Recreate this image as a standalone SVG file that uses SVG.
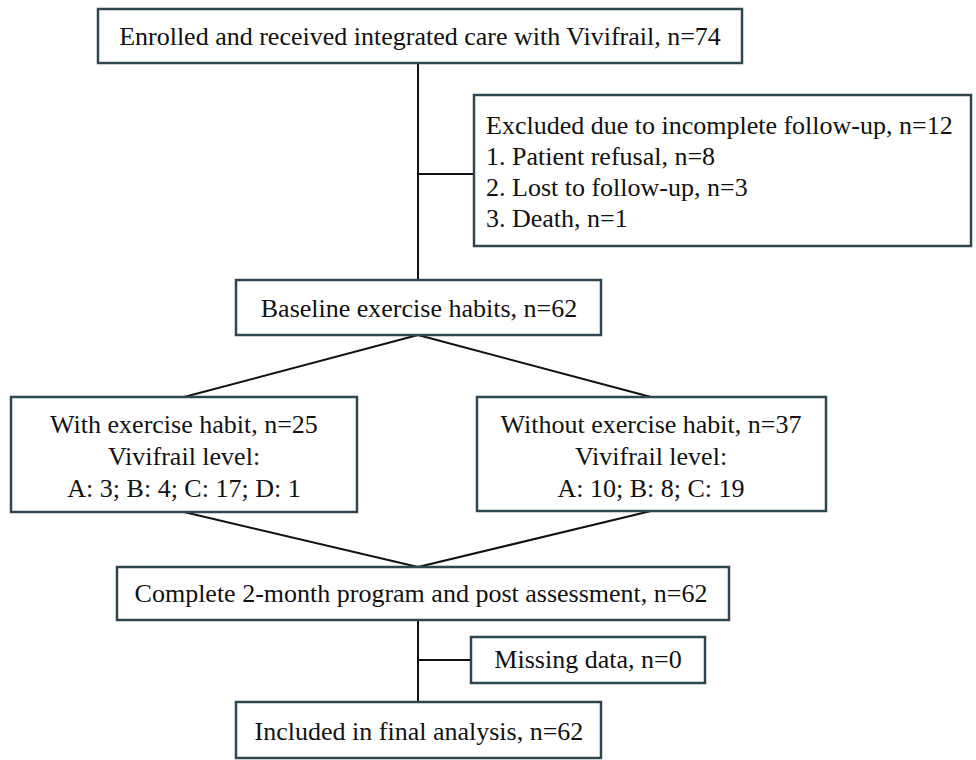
<svg xmlns="http://www.w3.org/2000/svg" width="976" height="760" viewBox="0 0 976 760">
<style>
.box{fill:#fff;stroke:#2e4650;stroke-width:2.5}
.t{font-family:"Liberation Serif","Times New Roman",serif;font-size:26px;fill:#111}
.c{text-anchor:middle}
.ln{stroke:#111;stroke-width:2;fill:none}
</style>
<rect width="976" height="760" fill="#fff"/>
<g id="connectors">
<line class="ln" x1="418" y1="63" x2="418" y2="280"/>
<line class="ln" x1="418" y1="174" x2="474" y2="174"/>
<line class="ln" x1="418" y1="335" x2="184" y2="397"/>
<line class="ln" x1="418" y1="335" x2="651" y2="397"/>
<line class="ln" x1="184" y1="512" x2="418" y2="567"/>
<line class="ln" x1="651" y1="511" x2="418" y2="567"/>
<line class="ln" x1="418" y1="620" x2="418" y2="702"/>
<line class="ln" x1="418" y1="660" x2="471" y2="660"/>
</g>
<g id="enrolled">
<rect class="box" x="98" y="9" width="644" height="54"/>
<text class="t c" x="420" y="45">Enrolled and received integrated care with Vivifrail, n=74</text>
</g>
<g id="excluded">
<rect class="box" x="474" y="95" width="497" height="151"/>
<text class="t" x="486" y="134">Excluded due to incomplete follow-up, n=12</text>
<text class="t" x="486" y="165">1. Patient refusal, n=8</text>
<text class="t" x="486" y="196">2. Lost to follow-up, n=3</text>
<text class="t" x="486" y="227">3. Death, n=1</text>
</g>
<g id="baseline">
<rect class="box" x="236" y="280" width="365" height="55"/>
<text class="t c" x="419" y="317">Baseline exercise habits, n=62</text>
</g>
<g id="with">
<rect class="box" x="11" y="397" width="346" height="115"/>
<text class="t c" x="184" y="433">With exercise habit, n=25</text>
<text class="t c" x="184" y="465">Vivifrail level:</text>
<text class="t c" x="184" y="497">A: 3; B: 4; C: 17; D: 1</text>
</g>
<g id="without">
<rect class="box" x="477" y="397" width="349" height="114"/>
<text class="t c" x="651" y="433">Without exercise habit, n=37</text>
<text class="t c" x="651" y="465">Vivifrail level:</text>
<text class="t c" x="651" y="497">A: 10; B: 8; C: 19</text>
</g>
<g id="complete">
<rect class="box" x="117" y="567" width="612" height="53"/>
<text class="t c" x="421" y="602">Complete 2-month program and post assessment, n=62</text>
</g>
<g id="missing">
<rect class="box" x="471" y="637" width="234" height="46"/>
<text class="t c" x="588" y="668">Missing data, n=0</text>
</g>
<g id="included">
<rect class="box" x="236" y="702" width="365" height="56"/>
<text class="t c" x="419" y="740">Included in final analysis, n=62</text>
</g>
</svg>
